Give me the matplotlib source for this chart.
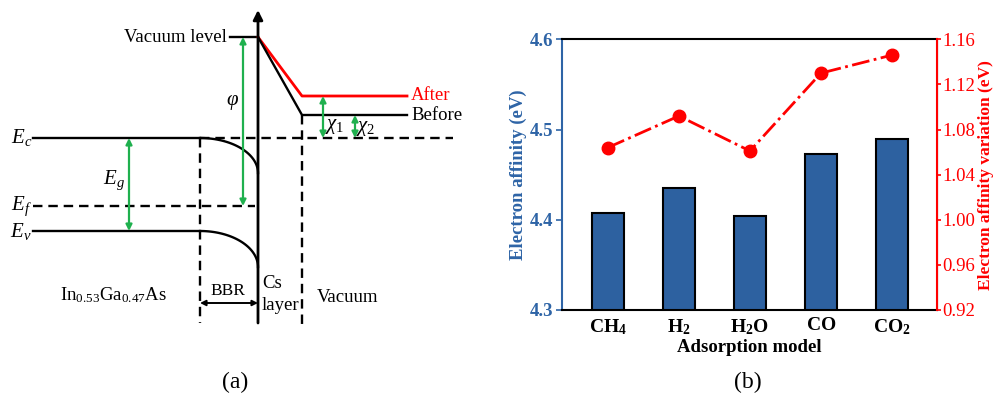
import numpy as np
import matplotlib
matplotlib.use("Agg")
import matplotlib.pyplot as plt

plt.rcParams["font.family"] = ["Liberation Serif", "DejaVu Serif"]
plt.rcParams["mathtext.fontset"] = "custom"
plt.rcParams["mathtext.rm"] = "Liberation Serif"
plt.rcParams["mathtext.it"] = "Liberation Serif:italic"
plt.rcParams["mathtext.bf"] = "Liberation Serif:bold"

# ---- panel (b) data ----
models = [r"$\mathbf{CH_4}$", r"$\mathbf{H_2}$", r"$\mathbf{H_2O}$", r"$\mathbf{CO}$", r"$\mathbf{CO_2}$"]
affinity = [4.407, 4.435, 4.404, 4.473, 4.489]
variation = [1.064, 1.092, 1.061, 1.130, 1.146]
left_ticks = [4.3, 4.4, 4.5, 4.6]
right_ticks = [0.92, 0.96, 1.00, 1.04, 1.08, 1.12, 1.16]

# ---- panel (a) band diagram levels (figure pixels, y downward) ----
x_left, x_bbr, x_surf, x_cs, x_end, x_dash_end = 33, 200, 258, 302, 407, 453
y_vac, y_after, y_before = 37, 96, 115
y_ec, y_ef, y_ev = 138, 206, 231
y_ec_surf, y_ev_surf = 173, 267
y_bottom, y_top = 323, 10

BLUE = "#2E64A6"
BAR = "#2D61A0"
RED = "#FF0000"
GREEN = "#1FB04E"

fig = plt.figure(figsize=(9.95, 3.95), dpi=100)
bg = fig.add_axes([0, 0, 1, 1])
bg.set_xlim(0, 995); bg.set_ylim(395, 0); bg.axis("off")

lw = 1.7
dash = (0, (4, 2.5))
# flat bands
bg.plot([x_left, x_bbr], [y_ec, y_ec], "k", lw=lw)
bg.plot([x_left, x_bbr], [y_ev, y_ev], "k", lw=lw)
bg.plot([x_left, x_surf - 3], [y_ef, y_ef], "k", lw=lw, ls=dash)
bg.plot([x_bbr, x_dash_end], [y_ec, y_ec], "k", lw=lw, ls=dash)
# band bending
t = np.linspace(0, np.pi / 2, 60)
bg.plot(x_bbr + (x_surf - x_bbr) * np.sin(t), y_ec + (y_ec_surf - y_ec) * (1 - np.cos(t)), "k", lw=lw)
bg.plot(x_bbr + (x_surf - x_bbr) * np.sin(t), y_ev + (y_ev_surf - y_ev) * (1 - np.cos(t)), "k", lw=lw)
# vertical dashed boundaries
bg.plot([x_bbr, x_bbr], [y_ec, y_bottom], "k", lw=lw, ls=dash)
bg.plot([x_cs, x_cs], [y_before, y_bottom + 5], "k", lw=lw, ls=dash)
# energy axis
bg.annotate("", xy=(x_surf, y_top), xytext=(x_surf, y_bottom),
            arrowprops=dict(arrowstyle="-|>", lw=2, color="k", mutation_scale=14, shrinkA=0, shrinkB=0))
# vacuum level and surface barrier
bg.plot([230, x_surf], [y_vac, y_vac], "k", lw=lw)
bg.plot([x_surf, x_cs, x_end], [y_vac, y_after, y_after], color=RED, lw=2)
bg.plot([x_surf, x_cs, x_end], [y_vac, y_before, y_before], "k", lw=lw)

def darrow(x0, y0, x1, y1, color=GREEN, ms=9, lwa=1.6):
    bg.annotate("", xy=(x1, y1), xytext=(x0, y0),
                arrowprops=dict(arrowstyle="<|-|>", lw=lwa, color=color, mutation_scale=ms, shrinkA=0, shrinkB=0))

darrow(243, y_vac, 243, y_ef)
darrow(129, y_ec, 129, y_ev)
darrow(323, y_after, 323, y_ec)
darrow(355, y_before, 355, y_ec)
darrow(x_bbr, 303, x_surf, 303, color="k", ms=8, lwa=1.4)

fs = 13.5
bg.text(227, y_vac, "Vacuum level", fontsize=fs, ha="right", va="center")
bg.text(411, y_after, "After", fontsize=fs, ha="left", va="center", color=RED)
bg.text(411, y_before, "Before", fontsize=fs, ha="left", va="center")
bg.text(32, y_ec, r"$E_c$", fontsize=15, ha="right", va="center")
bg.text(32, y_ef, r"$E_f$", fontsize=15, ha="right", va="center")
bg.text(32, y_ev, r"$E_v$", fontsize=15, ha="right", va="center")
bg.text(125, 180, r"$E_g$", fontsize=15, ha="right", va="center")
bg.text(232, 102, r"$\varphi$", fontsize=15, ha="center", va="center")
bg.text(325, 127, r"$\chi_{\mathit{1}}$", fontsize=15, ha="left", va="center")
bg.text(356, 128, r"$\chi_{\mathit{2}}$", fontsize=15, ha="left", va="center")
bg.text(113, 295, r"In$_{0.53}$Ga$_{0.47}$As", fontsize=fs, ha="center", va="center")
bg.text(228, 291, "BBR", fontsize=12.5, ha="center", va="center")
bg.text(262, 284, "Cs", fontsize=fs, ha="left", va="center")
bg.text(262, 306, "layer", fontsize=fs, ha="left", va="center")
bg.text(348, 297, "Vacuum", fontsize=fs, ha="center", va="center")
bg.text(235, 382, "(a)", fontsize=17, ha="center", va="center")
bg.text(748, 382, "(b)", fontsize=17, ha="center", va="center")

# ---- panel (b) ----
ax = fig.add_axes([561.7 / 995, 85 / 395, 375 / 995, 270.7 / 395])
x = np.arange(len(models))
ax.bar(x, affinity, width=0.45, color=BAR, edgecolor="k", linewidth=1.5, zorder=2)
ax.set_ylim(4.3, 4.6)
ax.set_xlim(-0.65, 4.63)
ax.set_yticks(left_ticks)
ax.set_yticklabels([f"{v:.1f}" for v in left_ticks], fontsize=13.5, fontweight="bold", color=BLUE)
ax.tick_params(axis="y", colors=BLUE, direction="out", length=4, width=1.2, pad=2)
ax.set_xticks(x)
ax.set_xticklabels(models, fontsize=14)
ax.tick_params(axis="x", length=0, pad=5)
ax.set_xlabel("Adsorption model", fontsize=13.5, fontweight="bold", labelpad=2)
ax.set_ylabel("Electron affinity (eV)", fontsize=13.5, fontweight="bold", color=BLUE)
ax.yaxis.set_label_coords(-0.0925, 0.5)
for s in ["top", "bottom"]:
    ax.spines[s].set_linewidth(1.5)
ax.spines["left"].set_color(BLUE); ax.spines["left"].set_linewidth(1.5)

ax2 = ax.twinx()
ax2.plot(x, variation, color=RED, ls="-.", lw=2, marker="o", ms=9, zorder=3)
ax2.set_ylim(0.92, 1.16)
ax2.set_yticks(right_ticks)
ax2.set_yticklabels([f"{v:.2f}" for v in right_ticks], fontsize=13.5, color=RED)
ax2.tick_params(axis="y", colors=RED, direction="out", length=3, width=1.2, pad=1)
ax2.set_ylabel("Electron affinity variation (eV)", fontsize=12.5, fontweight="bold", color=RED, rotation=90)
ax2.yaxis.set_label_coords(1.11, 0.5)
ax2.spines["right"].set_color(RED); ax2.spines["right"].set_linewidth(1.5)
ax2.spines["left"].set_visible(False)
ax2.spines["top"].set_visible(False); ax2.spines["bottom"].set_visible(False)

fig.savefig("out.png", dpi=100)
